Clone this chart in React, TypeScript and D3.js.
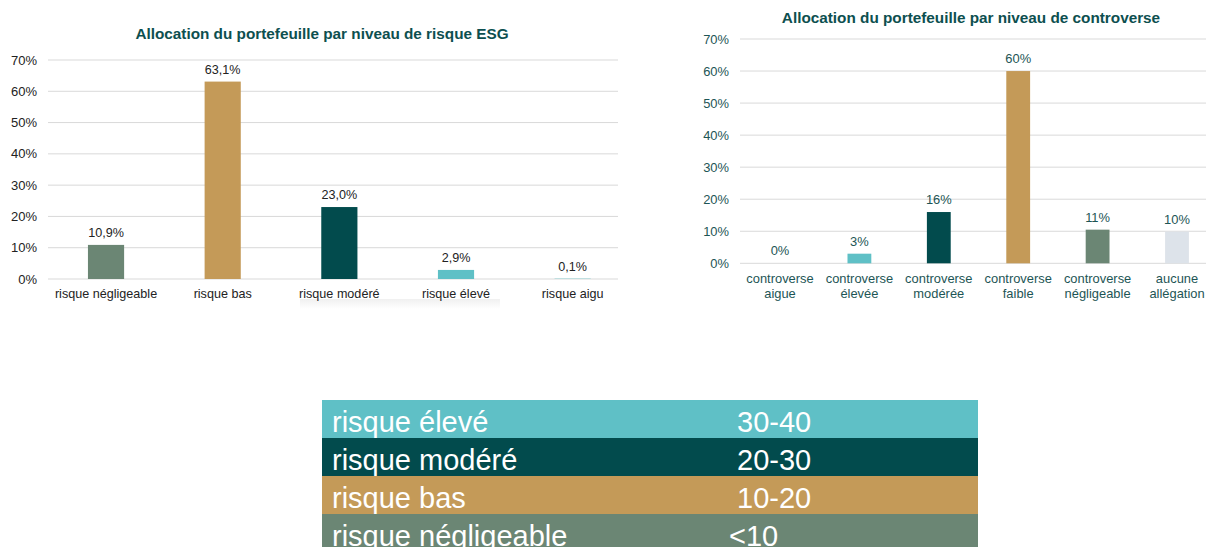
import React from "react";
import * as d3 from "d3";

// ---- Data ----
const esgCategories = ["risque négligeable", "risque bas", "risque modéré", "risque élevé", "risque aigu"];
const esgValues = [10.9, 63.1, 23.0, 2.9, 0.1];
const esgColors = ["#6b8674", "#c49a58", "#024b4d", "#5fc0c6", "#5fc0c6"];

const contCategories = [
  ["controverse", "aigue"],
  ["controverse", "élevée"],
  ["controverse", "modérée"],
  ["controverse", "faible"],
  ["controverse", "négligeable"],
  ["aucune", "allégation"],
];
const contValues = [0, 3.0, 16.0, 60.0, 10.5, 9.9];
const contColors = ["#5fc0c6", "#5fc0c6", "#024b4d", "#c49a58", "#6b8674", "#dde3ea"];

const yTicks = [0, 10, 20, 30, 40, 50, 60, 70];

const tableLabels = ["risque élevé", "risque modéré", "risque bas", "risque négligeable"];
const tableRanges = ["30-40", "20-30", "10-20", "<10"];
const tableColors = ["#5fc0c6", "#024b4d", "#c49a58", "#6b8674"];

const FONT = "'Liberation Sans', Arial, Helvetica, sans-serif";
const TITLE_COLOR = "#0d4f4f";
const GRID = "#d9d9d9";

function fmtComma(v: number) {
  return v.toFixed(1).replace(".", ",") + "%";
}

export default function App() {
  // Left chart scales
  const yL = d3.scaleLinear().domain([0, 70]).range([279, 60]);
  const xL = d3
    .scaleBand<string>()
    .domain(esgCategories)
    .range([47.7, 631])
    .paddingInner(0.69)
    .paddingOuter(0.345);

  // Right chart scales
  const contKeys = contCategories.map((c) => c.join(" "));
  const yR = d3.scaleLinear().domain([0, 70]).range([263.3, 39]);
  const xR = d3
    .scaleBand<string>()
    .domain(contKeys)
    .range([740.3, 1216.7])
    .paddingInner(0.7)
    .paddingOuter(0.35);

  // Table
  const yT = d3.scaleBand<string>().domain(tableLabels).range([400, 552]).padding(0);

  return (
    <svg
      width={1206}
      height={547}
      style={{ position: "absolute", left: 0, top: 0, display: "block", background: "#fff" }}
      fontFamily={FONT}
    >
      <defs>
        <linearGradient id="shadow" x1="0" y1="0" x2="0" y2="1">
          <stop offset="0" stopColor="#f0f0f0" />
          <stop offset="1" stopColor="#ffffff" />
        </linearGradient>
      </defs>
      <rect x={0} y={0} width={1206} height={547} fill="#fff" />

      {/* ===== Left chart ===== */}
      <text x={322} y={39} textAnchor="middle" fontSize={15.3} fontWeight="bold" fill={TITLE_COLOR}>
        Allocation du portefeuille par niveau de risque ESG
      </text>
      {yTicks.map((t) => (
        <g key={"lg" + t}>
          <line x1={48} x2={618} y1={yL(t)} y2={yL(t)} stroke={GRID} strokeWidth={1} />
          <text x={37} y={yL(t)} dy="0.35em" textAnchor="end" fontSize={13} fill="#222">
            {t}%
          </text>
        </g>
      ))}
      <rect x={300} y={299} width={200} height={10} fill="url(#shadow)" />
      {esgCategories.map((c, i) => {
        const x = xL(c)!;
        const w = xL.bandwidth();
        const v = esgValues[i];
        return (
          <g key={c}>
            <rect x={x} y={yL(v)} width={w} height={yL(0) - yL(v)} fill={esgColors[i]} />
            <text x={x + w / 2} y={yL(v) - 8} textAnchor="middle" fontSize={12.6} fill="#222">
              {fmtComma(v)}
            </text>
            <text x={x + w / 2} y={298} textAnchor="middle" fontSize={12.6} fill="#222">
              {c}
            </text>
          </g>
        );
      })}

      {/* ===== Right chart ===== */}
      <text x={971} y={23} textAnchor="middle" fontSize={15.3} fontWeight="bold" fill={TITLE_COLOR}>
        Allocation du portefeuille par niveau de controverse
      </text>
      {yTicks.map((t) => (
        <g key={"rg" + t}>
          <line x1={740} x2={1206} y1={yR(t)} y2={yR(t)} stroke={GRID} strokeWidth={1} />
          <text x={729} y={yR(t)} dy="0.35em" textAnchor="end" fontSize={12.9} fill="#1d5555">
            {t}%
          </text>
        </g>
      ))}
      {contKeys.map((k, i) => {
        const x = xR(k)!;
        const w = xR.bandwidth();
        const v = contValues[i];
        return (
          <g key={k}>
            {v > 0 && (
              <rect x={x} y={yR(v)} width={w} height={yR(0) - yR(v)} fill={contColors[i]} />
            )}
            <text x={x + w / 2} y={yR(v) - 8} textAnchor="middle" fontSize={12.9} fill="#1d5555">
              {Math.round(v)}%
            </text>
            {contCategories[i].map((line, j) => (
              <text
                key={j}
                x={x + w / 2}
                y={282.5 + j * 15}
                textAnchor="middle"
                fontSize={12.9}
                fill="#1d5555"
              >
                {line}
              </text>
            ))}
          </g>
        );
      })}

      {/* ===== Table ===== */}
      {tableLabels.map((lab, i) => {
        const y = yT(lab)!;
        const h = yT.bandwidth();
        return (
          <g key={lab}>
            <rect x={322} y={y} width={656} height={h} fill={tableColors[i]} />
            <text x={332} y={y + 32} fontSize={29} fill="#fff">
              {lab}
            </text>
            <text x={tableRanges[i].startsWith("<") ? 729 : 737} y={y + 32} fontSize={29} fill="#fff">
              {tableRanges[i]}
            </text>
          </g>
        );
      })}
    </svg>
  );
}
